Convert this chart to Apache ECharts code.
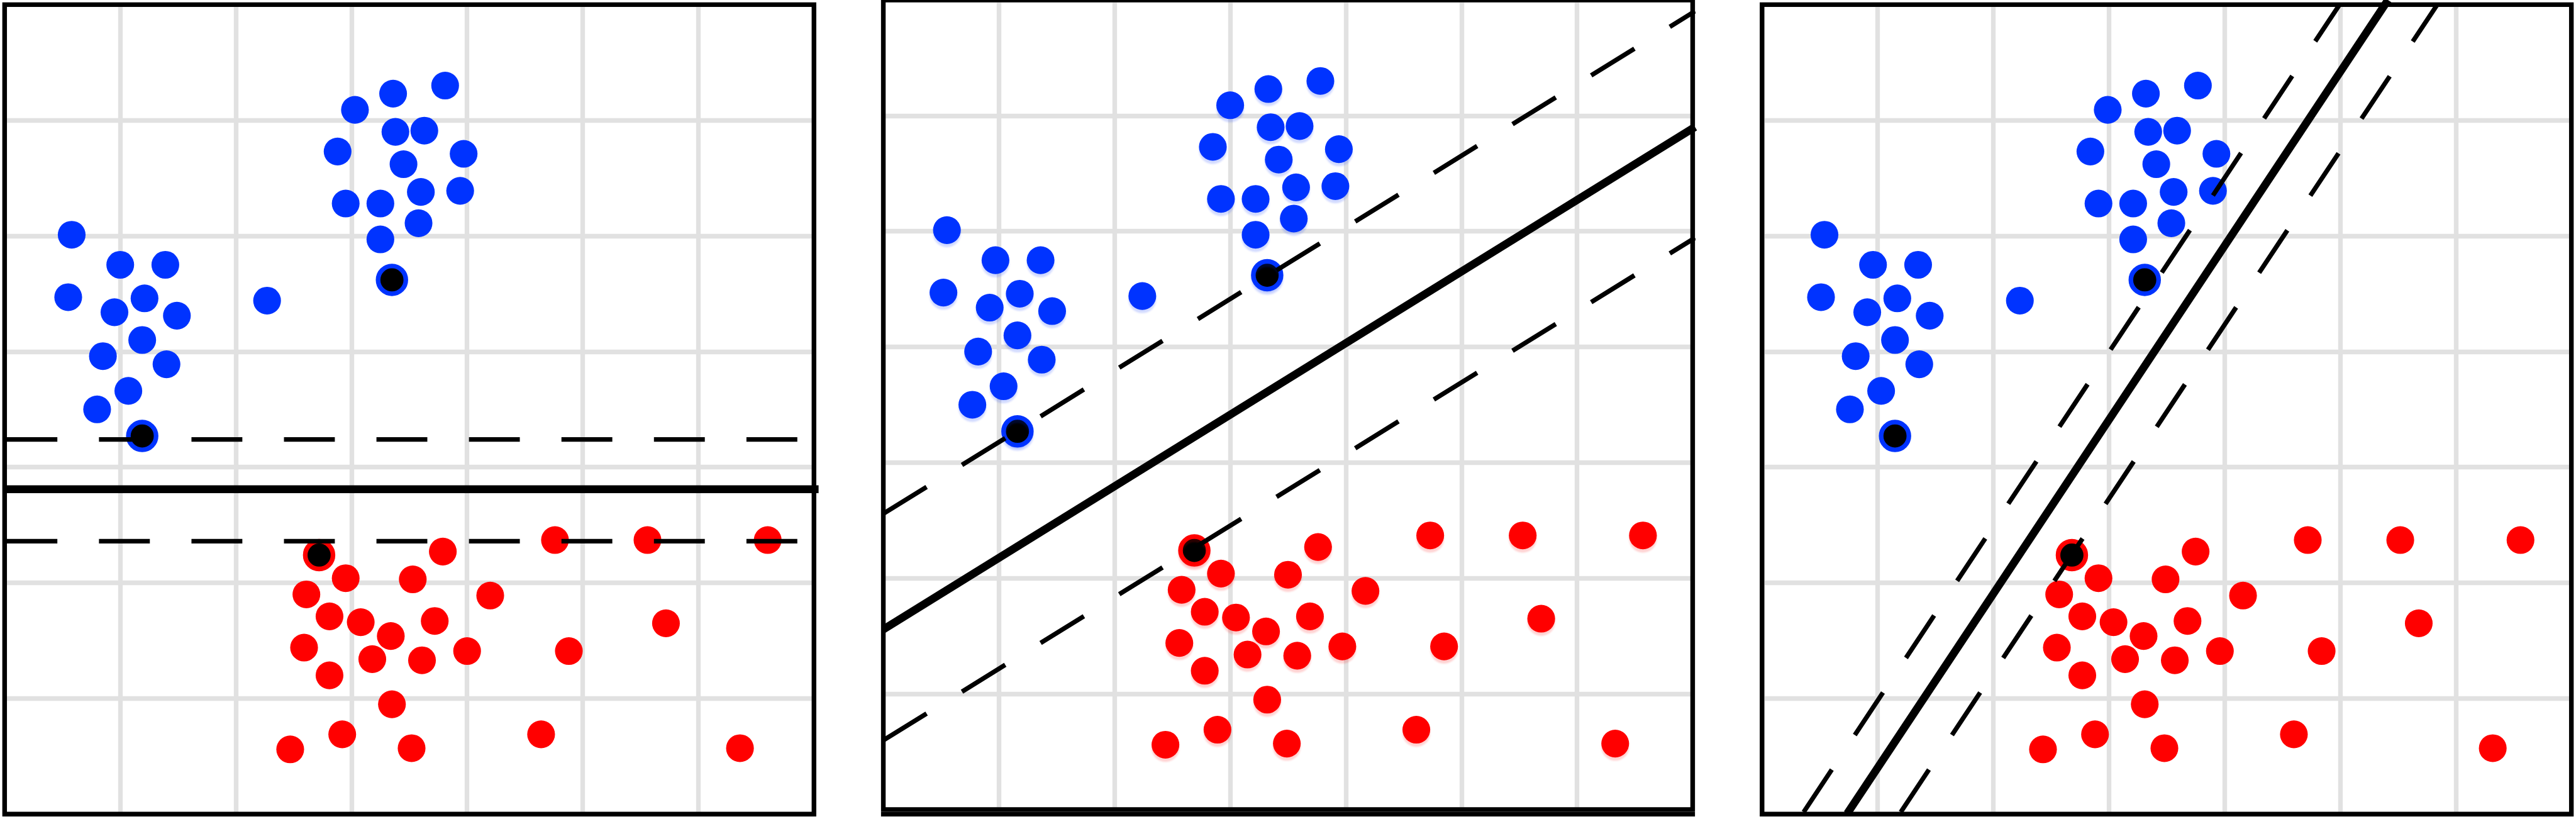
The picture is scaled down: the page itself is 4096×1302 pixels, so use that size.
<!DOCTYPE html>
<html><head><meta charset="utf-8">
<script src="https://cdn.jsdelivr.net/npm/echarts@6/dist/echarts.min.js"></script>
<style>html,body{margin:0;padding:0;background:#fff;overflow:hidden}#c{width:4096px;height:1302px}</style>
</head><body><div id="c"></div><script>
// ---- data (grid units 0..7) ----
const blueX = [3.81,3.36,3.03,3.38,3.63,2.88,3.97,3.45,3.60,3.94,2.95,3.25,3.58,3.25,3.35,
               0.58,1.00,1.39,0.55,1.21,0.95,1.49,2.27,1.19,0.85,1.40,1.07,0.80,1.19];
const blueY = [6.30,6.23,6.09,5.90,5.91,5.73,5.71,5.62,5.38,5.39,5.28,5.28,5.11,4.97,4.62,
               5.01,4.75,4.75,4.47,4.46,4.34,4.31,4.44,4.10,3.96,3.89,3.66,3.50,3.27];
const redX  = [2.72,3.79,4.76,5.56,6.60,2.95,3.53,2.61,4.20,2.81,3.08,3.72,3.34,5.72,2.59,
               4.00,4.88,3.18,3.61,2.81,3.35,2.92,4.64,2.47,3.52,6.36];
const redY  = [2.24,2.27,2.37,2.37,2.37,2.04,2.03,1.90,1.89,1.71,1.66,1.67,1.54,1.65,1.44,
               1.41,1.41,1.34,1.33,1.20,0.95,0.69,0.69,0.56,0.57,0.57];
const blueSupport = [14, 28];
const redSupport = [0];
// separating line and margins per panel: [[x0,y0],[x1,y1]]
const panel1Lines = { solid: [[0.00,2.81],[7.04,2.81]], upper: [[0.016,3.24],[7.0,3.24]], lower: [[0.016,2.36],[7.0,2.36]] };
const panel2Lines = { solid: [[0.03,1.557],[7.05,5.902]], upper: [[0.03,2.558],[7.05,6.903]], lower: [[0.03,0.598],[7.05,4.943]] };
const panel3Lines = { solid: [[0.777,0.005],[5.454,7.04]], upper: [[0.400,0.018],[5.032,6.995]], lower: [[1.240,0.018],[5.877,6.995]] };
const panelXMin = [0, 0.03, 0.04];

// ---- layout ----
const k = 4096 / 5570;
const W = 1750 * k;
const panels = [
  { left: 10 * k, top: 10 * k, lines: panel1Lines, shadow: false },
  { left: 1910 * k, top: 0, lines: panel2Lines, shadow: true },
  { left: 3810 * k, top: 10 * k, lines: panel3Lines, shadow: false }
];
const BLUE = '#0033ff', RED = '#ff0000', GRID = '#e1e1e1';
const pts = (xs, ys, skip) => xs.map((x, i) => [x, ys[i], i]).filter(p => !skip.includes(p[2])).map(p => [p[0], p[1]]);

const grid = [], xAxis = [], yAxis = [], series = [], graphic = [];
panels.forEach((p, i) => {
  grid.push({ left: p.left, top: p.top, width: W, height: W, containLabel: false });
  const axisCommon = { type: 'value', interval: 1, axisLine: { show: false }, axisTick: { show: false }, axisLabel: { show: false },
    splitLine: { show: true, lineStyle: { color: GRID, width: 10 * k } } };
  xAxis.push(Object.assign({ gridIndex: i, min: panelXMin[i], max: panelXMin[i] + 7 }, axisCommon));
  yAxis.push(Object.assign({ gridIndex: i, min: 0, max: 7 }, axisCommon));
  const sh = (c) => p.shadow ? { shadowColor: c, shadowOffsetY: 7 * k, shadowBlur: 4 * k } : {};
  series.push({ type: 'scatter', xAxisIndex: i, yAxisIndex: i, symbol: 'circle', symbolSize: 60 * k, z: 2,
    itemStyle: Object.assign({ color: BLUE, opacity: 1 }, sh('rgba(0,51,255,0.18)')), data: pts(blueX, blueY, blueSupport) });
  series.push({ type: 'scatter', xAxisIndex: i, yAxisIndex: i, symbol: 'circle', symbolSize: 60 * k, z: 2,
    itemStyle: Object.assign({ color: RED, opacity: 1 }, sh('rgba(255,0,0,0.18)')), data: pts(redX, redY, redSupport) });
  const sv = blueSupport.map(j => ({ value: [blueX[j], blueY[j]], itemStyle: Object.assign({ borderColor: BLUE }, sh('rgba(0,51,255,0.18)')) }))
    .concat(redSupport.map(j => ({ value: [redX[j], redY[j]], itemStyle: Object.assign({ borderColor: RED }, sh('rgba(255,0,0,0.18)')) })));
  series.push({ type: 'scatter', xAxisIndex: i, yAxisIndex: i, symbol: 'circle', symbolSize: 60 * k, z: 3,
    itemStyle: { color: '#000', borderWidth: 10 * k, opacity: 1 }, data: sv });
  const ln = (d, solid) => ({ type: 'line', xAxisIndex: i, yAxisIndex: i, data: d, showSymbol: false, symbol: 'none', clip: false, z: 5, silent: true,
    lineStyle: solid ? { color: '#000', width: 17 * k, cap: 'butt' } : { color: '#000', width: 10 * k, type: [110 * k, 90 * k], cap: 'butt' } });
  series.push(ln(p.lines.solid, true), ln(p.lines.upper, false), ln(p.lines.lower, false));
  graphic.push({ type: 'rect', z: 100, silent: true, shape: { x: p.left, y: p.top, width: W, height: W },
    style: { fill: null, stroke: '#000', lineWidth: 10 * k } });
});
// thicker bottom edge under the middle panel
graphic.push({ type: 'rect', z: 100, silent: true, shape: { x: 1905 * k, y: 1755 * k, width: 1760 * k, height: 10 * k }, style: { fill: '#000' } });

const chart = echarts.init(document.getElementById('c'), null, { renderer: 'canvas' });
chart.setOption({ animation: false, backgroundColor: '#fff', grid, xAxis, yAxis, series, graphic });
</script></body></html>
